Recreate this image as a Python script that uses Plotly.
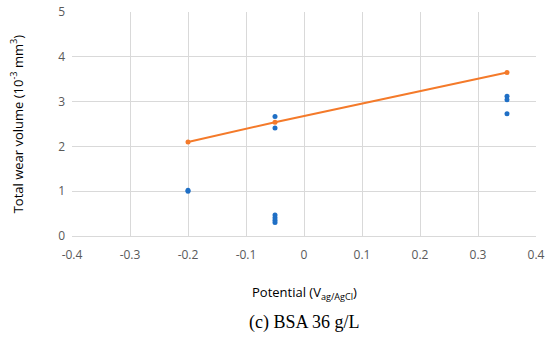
import plotly.graph_objects as go

blue_x = [-0.2, -0.2, -0.05, -0.05, -0.05, -0.05, -0.05, -0.05, 0.35, 0.35, 0.35]
blue_y = [1.0, 1.02, 2.67, 2.41, 0.47, 0.41, 0.35, 0.30, 3.12, 3.04, 2.73]
line_x = [-0.2, -0.05, 0.35]
line_y = [2.1, 2.54, 3.65]

x_ticks = [-0.4, -0.3, -0.2, -0.1, 0, 0.1, 0.2, 0.3, 0.4]
x_labels = ["-0.4", "-0.3", "-0.2", "-0.1", "0", "0.1", "0.2", "0.3", "0.4"]
y_ticks = [0, 1, 2, 3, 4, 5]

fig = go.Figure()
fig.add_trace(go.Scatter(x=line_x, y=line_y, mode="lines+markers",
                         line=dict(color="#F47A2A", width=2),
                         marker=dict(color="#F47A2A", size=5)))
fig.add_trace(go.Scatter(x=blue_x, y=blue_y, mode="markers",
                         marker=dict(color="#1F6FC5", size=5)))

fig.update_layout(
    width=550, height=347,
    margin=dict(l=72, r=14, t=12, b=111),
    paper_bgcolor="white", plot_bgcolor="white",
    showlegend=False,
    font=dict(family="Open Sans", size=12, color="#595959"),
    xaxis=dict(range=[-0.4, 0.4], tickvals=x_ticks, ticktext=x_labels,
               showgrid=True, gridcolor="#D9D9D9", gridwidth=1,
               zeroline=False, showline=True, linecolor="#D9D9D9",
               ticks="", ticklabelstandoff=8, automargin=False,
               tickfont=dict(size=12, color="#595959")),
    yaxis=dict(range=[0, 5], tickvals=y_ticks,
               showgrid=True, gridcolor="#D9D9D9", gridwidth=1,
               zeroline=False, showline=False,
               ticks="", ticklabelstandoff=6, automargin=False,
               tickfont=dict(size=12, color="#595959")),
    annotations=[
        dict(text="Potential (V<sub>ag/AgCl</sub>)", xref="paper", yref="paper",
             x=0.5, y=-0.255, xanchor="center", yanchor="middle", showarrow=False,
             font=dict(family="Open Sans", size=13, color="#000000")),
        dict(text="(c) BSA 36 g/L", xref="paper", yref="paper",
             x=0.5, y=-0.385, xanchor="center", yanchor="middle", showarrow=False,
             font=dict(family="Liberation Serif", size=18, color="#000000")),
        dict(text="Total wear volume (10<sup>-3</sup> mm<sup>3</sup>)", xref="paper", yref="paper",
             x=-0.12, y=0.5, xanchor="center", yanchor="middle", showarrow=False,
             textangle=-90,
             font=dict(family="Open Sans", size=13, color="#000000")),
    ],
)

fig.write_html("out.html", config={"displayModeBar": False},
               post_script="document.body.style.margin='0';")
